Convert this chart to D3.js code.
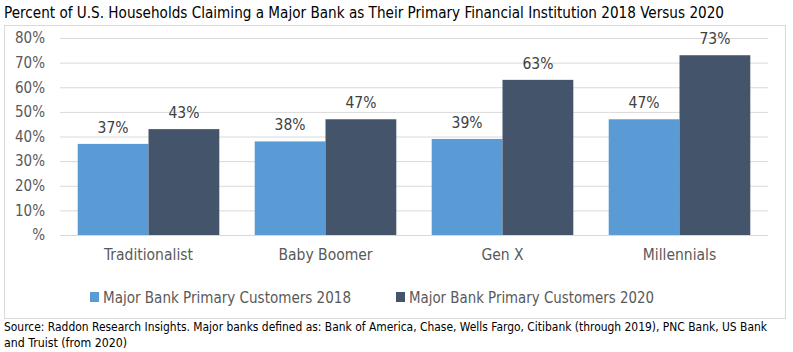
<!DOCTYPE html>
<html>
<head>
<meta charset="utf-8">
<script src="https://cdn.jsdelivr.net/npm/d3@7"></script>
<style>
  body { margin: 0; background: #fff; }
  svg text { font-family: "Liberation Sans Narrow", "DejaVu Sans Condensed", sans-serif; }
</style>
</head>
<body>
<svg id="chart" width="793" height="352"></svg>
<script>
// Data
const categories = ["Traditionalist", "Baby Boomer", "Gen X", "Millennials"];
const seriesNames = ["Major Bank Primary Customers 2018", "Major Bank Primary Customers 2020"];
const values2018 = [37, 38, 39, 47];
const values2020 = [43, 47, 63, 73];
const yTicks = [0, 10, 20, 30, 40, 50, 60, 70, 80];

const colors = ["#5b9bd5", "#44546a"];
const textColor = "#595959";

let svg = d3.select("svg#chart");

// Layout
let plot = { left: 60, right: 768, top: 38, bottom: 235 };

// Title
svg.append("text")
  .attr("x", 4)
  .attr("y", 18)
  .attr("font-size", "15.5px")
  .attr("textLength", 720)
  .attr("lengthAdjust", "spacingAndGlyphs")
  .attr("fill", "#000")
  .text("Percent of U.S. Households Claiming a Major Bank as Their Primary Financial Institution 2018 Versus 2020");

// Chart frame
svg.append("rect")
  .attr("x", 4.5)
  .attr("y", 25.5)
  .attr("width", 781)
  .attr("height", 293)
  .attr("fill", "none")
  .attr("stroke", "#d9d9d9");

// Scales
const xScale = d3.scaleBand()
  .domain(categories)
  .range([plot.left, plot.right])
  .paddingInner(0.2)
  .paddingOuter(0.1);

const xSub = d3.scaleBand()
  .domain([0, 1])
  .range([0, xScale.bandwidth()]);

const yScale = d3.scaleLinear()
  .domain([0, 80])
  .range([plot.bottom, plot.top]);

// Gridlines
let grid = d3.axisLeft(yScale).tickValues(yTicks).tickSize(-(plot.right - plot.left)).tickFormat("");
let gridG = svg.append("g")
  .attr("transform", "translate(" + plot.left + ",0)")
  .call(grid);
gridG.select(".domain").remove();
gridG.selectAll("line").attr("stroke", "#d9d9d9");

// Y axis labels
let leftAxis = d3.axisLeft(yScale).tickValues(yTicks).tickSize(0).tickPadding(15)
  .tickFormat(d => d === 0 ? "%" : d + "%");
let leftG = svg.append("g")
  .attr("transform", "translate(" + plot.left + ",0)")
  .call(leftAxis);
leftG.select(".domain").remove();
leftG.selectAll("text")
  .attr("font-size", "15px")
  .attr("fill", textColor);

// Bars
const series = [values2018, values2020];
series.forEach((vals, s) => {
  svg.append("g").selectAll("rect")
    .data(vals)
    .join("rect")
    .attr("x", (d, i) => xScale(categories[i]) + xSub(s))
    .attr("y", d => yScale(d))
    .attr("width", xSub.bandwidth())
    .attr("height", d => yScale(0) - yScale(d))
    .attr("fill", colors[s]);

  svg.append("g").selectAll("text")
    .data(vals)
    .join("text")
    .attr("x", (d, i) => xScale(categories[i]) + xSub(s) + xSub.bandwidth() / 2)
    .attr("y", d => yScale(d) - 11)
    .attr("text-anchor", "middle")
    .attr("font-size", "15.5px")
    .attr("fill", "#404040")
    .text(d => d + "%");
});

// X axis labels
let bottomAxis = d3.axisBottom(xScale).tickSize(0).tickPadding(14);
let bottomG = svg.append("g")
  .attr("transform", "translate(0," + plot.bottom + ")")
  .call(bottomAxis);
bottomG.select(".domain").remove();
bottomG.selectAll("text")
  .attr("font-size", "15.5px")
  .attr("fill", textColor);

// Legend
const legendX = [90, 396];
const legendLen = [248, 245];
seriesNames.forEach((name, s) => {
  let g = svg.append("g").attr("transform", "translate(" + legendX[s] + ",297)");
  g.append("rect")
    .attr("x", 0)
    .attr("y", -5)
    .attr("width", 9)
    .attr("height", 10)
    .attr("fill", colors[s]);
  g.append("text")
    .attr("x", 13)
    .attr("y", 6)
    .attr("font-size", "16px")
    .attr("textLength", legendLen[s])
    .attr("lengthAdjust", "spacingAndGlyphs")
    .attr("fill", textColor)
    .text(name);
});

// Source
svg.append("text")
  .attr("x", 4)
  .attr("y", 331)
  .attr("font-size", "12px")
  .attr("textLength", 763)
  .attr("lengthAdjust", "spacingAndGlyphs")
  .attr("fill", "#000")
  .text("Source: Raddon Research Insights. Major banks defined as: Bank of America, Chase, Wells Fargo, Citibank (through 2019), PNC Bank, US Bank");
svg.append("text")
  .attr("x", 4)
  .attr("y", 347)
  .attr("font-size", "12px")
  .attr("textLength", 123)
  .attr("lengthAdjust", "spacingAndGlyphs")
  .attr("fill", "#000")
  .text("and Truist (from 2020)");
</script>
</body>
</html>
